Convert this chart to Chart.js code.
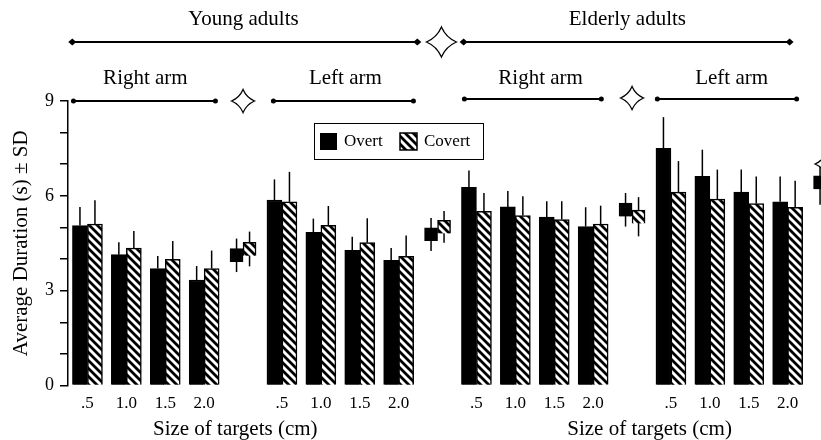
<!DOCTYPE html>
<html lang="en">
<head>
<meta charset="UTF-8">
<title>Average Duration by Target Size</title>
<style>
    body {
        margin: 0;
        background: #fff;
        overflow: hidden;
    }
    #chart-container {
        width: 850px;
        height: 440px;
    }
</style>
</head>
<body>
<div id="chart-container">
    <canvas id="duration-chart"></canvas>
</div>

<script src="https://cdn.jsdelivr.net/npm/chart.js"></script>
<script>
// target sizes (cm), repeated for every group
const sizeLabels = ['.5', '1.0', '1.5', '2.0'];

// average duration (s) and SD, per group: young right, young left, elderly right, elderly left
const youngRightOvert = [5.06, 4.14, 3.70, 3.34];
const youngRightOvertSD = [0.59, 0.39, 0.40, 0.44];
const youngRightCovert = [5.11, 4.35, 3.99, 3.70];
const youngRightCovertSD = [0.75, 0.54, 0.58, 0.57];

const youngLeftOvert = [5.87, 4.85, 4.28, 3.96];
const youngLeftOvertSD = [0.65, 0.43, 0.43, 0.39];
const youngLeftCovert = [5.81, 5.07, 4.52, 4.09];
const youngLeftCovertSD = [0.95, 0.61, 0.77, 0.66];

const elderlyRightOvert = [6.27, 5.65, 5.33, 5.03];
const elderlyRightOvertSD = [0.53, 0.50, 0.50, 0.61];
const elderlyRightCovert = [5.51, 5.38, 5.25, 5.11];
const elderlyRightCovertSD = [0.58, 0.61, 0.58, 0.58];

const elderlyLeftOvert = [7.50, 6.62, 6.12, 5.81];
const elderlyLeftOvertSD = [0.99, 0.84, 0.71, 0.80];
const elderlyLeftCovert = [6.12, 5.90, 5.76, 5.64];
const elderlyLeftCovertSD = [0.98, 0.93, 0.85, 0.84];

// group averages (the small squares after each group)
const groupMeanOvert = [4.12, 4.78, 5.56, 6.42];
const groupMeanOvertSD = [0.53, 0.52, 0.53, 0.70];
const groupMeanCovert = [4.32, 5.02, 5.34, 5.71];
const groupMeanCovertSD = [0.55, 0.50, 0.62, 0.70];

const yTicks = [0, 3, 6, 9];

const FONT = '"Liberation Serif", "Times New Roman", serif';
const MARK_HALF = 0.21; // half height of the mean squares, in seconds

const overtGroups = [youngRightOvert, youngLeftOvert, elderlyRightOvert, elderlyLeftOvert];
const overtSDGroups = [youngRightOvertSD, youngLeftOvertSD, elderlyRightOvertSD, elderlyLeftOvertSD];
const covertGroups = [youngRightCovert, youngLeftCovert, elderlyRightCovert, elderlyLeftCovert];
const covertSDGroups = [youngRightCovertSD, youngLeftCovertSD, elderlyRightCovertSD, elderlyLeftCovertSD];

// each group = 4 sizes + 1 slot for the group mean
const labels = [];
const overtData = [], overtSD = [], covertData = [], covertSD = [];
const meanOvertData = [], meanOvertCenter = [], meanOvertSD = [];
const meanCovertData = [], meanCovertCenter = [], meanCovertSD = [];
overtGroups.forEach((grp, g) => {
    grp.forEach((v, i) => {
        labels.push(sizeLabels[i]);
        overtData.push(v);
        overtSD.push(overtSDGroups[g][i]);
        covertData.push(covertGroups[g][i]);
        covertSD.push(covertSDGroups[g][i]);
        meanOvertData.push(null); meanOvertCenter.push(null); meanOvertSD.push(null);
        meanCovertData.push(null); meanCovertCenter.push(null); meanCovertSD.push(null);
    });
    labels.push('');
    overtData.push(null); overtSD.push(null);
    covertData.push(null); covertSD.push(null);
    const mo = groupMeanOvert[g], mc = groupMeanCovert[g];
    meanOvertData.push([mo - MARK_HALF, mo + MARK_HALF]);
    meanOvertCenter.push(mo); meanOvertSD.push(groupMeanOvertSD[g]);
    meanCovertData.push([mc - MARK_HALF, mc + MARK_HALF]);
    meanCovertCenter.push(mc); meanCovertSD.push(groupMeanCovertSD[g]);
});

function makeHatch() {
    const c = document.createElement('canvas');
    c.width = 8; c.height = 8;
    const g = c.getContext('2d');
    g.fillStyle = '#fff';
    g.fillRect(0, 0, 8, 8);
    g.strokeStyle = '#000';
    g.lineWidth = 2.8;
    g.beginPath();
    g.moveTo(-2, -2); g.lineTo(10, 10);
    g.moveTo(-2, 6); g.lineTo(2, 10);
    g.moveTo(6, -2); g.lineTo(10, 2);
    g.stroke();
    return g.createPattern(c, 'repeat');
}
const hatch = makeHatch();

function drawStar(ctx, x, y, r) {
    const w = r * 0.3;
    ctx.beginPath();
    ctx.moveTo(x, y - r);
    ctx.quadraticCurveTo(x + w, y - w, x + r, y);
    ctx.quadraticCurveTo(x + w, y + w, x, y + r);
    ctx.quadraticCurveTo(x - w, y + w, x - r, y);
    ctx.quadraticCurveTo(x - w, y - w, x, y - r);
    ctx.closePath();
    ctx.fillStyle = '#fff';
    ctx.fill();
    ctx.strokeStyle = '#000';
    ctx.lineWidth = 1.3;
    ctx.stroke();
}

// error bars: upward from the bar top, both ways for the group means
const errorBars = {
    id: 'errorBars',
    beforeDatasetsDraw(chart) {
        const ctx = chart.ctx;
        const y = chart.scales.y;
        ctx.save();
        ctx.strokeStyle = '#000';
        ctx.lineWidth = 1.5;
        chart.data.datasets.forEach((ds, di) => {
            const meta = chart.getDatasetMeta(di);
            meta.data.forEach((el, i) => {
                const sd = ds.sd[i];
                if (sd == null) return;
                let top, bottom;
                if (ds.center) {
                    top = y.getPixelForValue(ds.center[i] + sd);
                    bottom = y.getPixelForValue(ds.center[i] - sd);
                } else {
                    top = y.getPixelForValue(ds.data[i] + sd);
                    bottom = el.y;
                }
                ctx.beginPath();
                ctx.moveTo(el.x, top);
                ctx.lineTo(el.x, bottom);
                ctx.stroke();
            });
        });
        ctx.restore();
    }
};

// group headers, stars, legend box and the two x titles
const headerSpans = [
    { text: 'Young adults', from: -0.39, to: 8.48, mid: 4.01, row: 0 },
    { text: 'Elderly adults', from: 9.67, to: 18.05, mid: 13.88, row: 0 },
    { text: 'Right arm', from: -0.36, to: 3.29, mid: 1.49, row: 1 },
    { text: 'Left arm', from: 4.78, to: 8.38, mid: 6.63, row: 1 },
    { text: 'Right arm', from: 9.69, to: 13.21, mid: 11.65, row: 1 },
    { text: 'Left arm', from: 14.65, to: 18.23, mid: 16.56, row: 1 }
];
const stars = [
    { slot: 4, dy: 0, r: 11.5 },
    { slot: 9.1, dy: -59, r: 15 },
    { slot: 14, dy: -3, r: 11.5 },
    { slot: 19, dy: 63, r: 11.5 }
];
const xTitles = [{ text: 'Size of targets (cm)', mid: 3.8 }, { text: 'Size of targets (cm)', mid: 14.45 }];

const decorations = {
    id: 'decorations',
    afterDraw(chart) {
        const ctx = chart.ctx;
        const x = chart.scales.x;
        const ca = chart.chartArea;
        ctx.save();
        ctx.fillStyle = '#000';
        ctx.strokeStyle = '#000';
        ctx.textAlign = 'center';
        ctx.textBaseline = 'middle';
        ctx.font = '21px ' + FONT;

        headerSpans.forEach(h => {
            const textY = h.row === 0 ? ca.top - 82 : ca.top - 23;
            const lineY = h.row === 0 ? ca.top - 59 : ca.top - (h.from > 9 ? 2 : 0);
            const x0 = x.getPixelForValue(h.from);
            const x1 = x.getPixelForValue(h.to);
            ctx.fillText(h.text, x.getPixelForValue(h.mid), textY);
            ctx.lineWidth = 2;
            ctx.beginPath();
            ctx.moveTo(x0, lineY);
            ctx.lineTo(x1, lineY);
            ctx.stroke();
            [x0, x1].forEach(px => {
                ctx.beginPath();
                if (h.row === 0) {
                    ctx.moveTo(px - 4, lineY);
                    ctx.lineTo(px, lineY - 3.5);
                    ctx.lineTo(px + 4, lineY);
                    ctx.lineTo(px, lineY + 3.5);
                    ctx.closePath();
                } else {
                    ctx.arc(px, lineY, 2.5, 0, Math.PI * 2);
                }
                ctx.fill();
            });
        });

        stars.forEach(s => drawStar(ctx, x.getPixelForValue(s.slot), ca.top + s.dy, s.r));

        ctx.fillStyle = '#000';
        ctx.font = '21px ' + FONT;
        xTitles.forEach(t => ctx.fillText(t.text, x.getPixelForValue(t.mid), ca.bottom + 44));

        // legend
        const lx = ca.left + 246, ly = ca.top + 22;
        ctx.fillStyle = '#fff';
        ctx.fillRect(lx, ly, 170, 37);
        ctx.lineWidth = 1;
        ctx.strokeRect(lx + 0.5, ly + 0.5, 169, 36);
        ctx.fillStyle = '#000';
        ctx.fillRect(lx + 6, ly + 10, 17, 17);
        ctx.fillStyle = hatch;
        ctx.fillRect(lx + 86, ly + 10, 17, 17);
        ctx.lineWidth = 1.5;
        ctx.strokeRect(lx + 86, ly + 10, 17, 17);
        ctx.fillStyle = '#000';
        ctx.font = '17px ' + FONT;
        ctx.textAlign = 'left';
        ctx.fillText('Overt', lx + 30, ly + 19);
        ctx.fillText('Covert', lx + 110, ly + 19);
        ctx.restore();
    }
};

const ctx = document.getElementById('duration-chart').getContext('2d');
new Chart(ctx, {
    type: 'bar',
    data: {
        labels: labels,
        datasets: [
            { label: 'Overt', data: overtData, sd: overtSD, stack: 'overt',
              backgroundColor: '#000', borderColor: '#000', borderWidth: 1.5, barThickness: 15 },
            { label: 'Covert', data: covertData, sd: covertSD, stack: 'covert',
              backgroundColor: hatch, borderColor: '#000', borderWidth: 1.5, barThickness: 15 },
            { label: 'Overt mean', data: meanOvertData, center: meanOvertCenter, sd: meanOvertSD, stack: 'overt',
              backgroundColor: '#000', borderColor: '#000', borderWidth: 1.5, barThickness: 13 },
            { label: 'Covert mean', data: meanCovertData, center: meanCovertCenter, sd: meanCovertSD, stack: 'covert',
              backgroundColor: hatch, borderColor: '#000', borderWidth: 1.5, barThickness: 13 }
        ]
    },
    options: {
        responsive: true,
        maintainAspectRatio: false,
        animation: false,
        layout: { padding: { top: 101, right: 4, bottom: 26, left: 9 } },
        plugins: {
            legend: { display: false },
            tooltip: { enabled: false }
        },
        scales: {
            x: {
                grid: { display: false },
                border: { display: false },
                ticks: {
                    color: '#000',
                    font: { family: FONT, size: 17 },
                    maxRotation: 0,
                    autoSkip: false,
                    padding: 0
                }
            },
            y: {
                min: 0,
                max: 9,
                stacked: false,
                afterFit(scale) { scale.width = 59; },
                grid: { drawOnChartArea: false, color: '#000', tickLength: 8, lineWidth: 1.5 },
                border: { display: true, color: '#000', width: 1.5 },
                ticks: {
                    stepSize: 1,
                    color: '#000',
                    padding: 6,
                    font: { family: FONT, size: 18 },
                    callback: v => (yTicks.includes(v) ? v : '')
                },
                title: {
                    display: true,
                    text: 'Average Duration (s) \u00b1 SD',
                    color: '#000',
                    font: { family: FONT, size: 21 },
                    padding: 0
                }
            }
        }
    },
    plugins: [errorBars, decorations]
});
</script>
</body>
</html>
